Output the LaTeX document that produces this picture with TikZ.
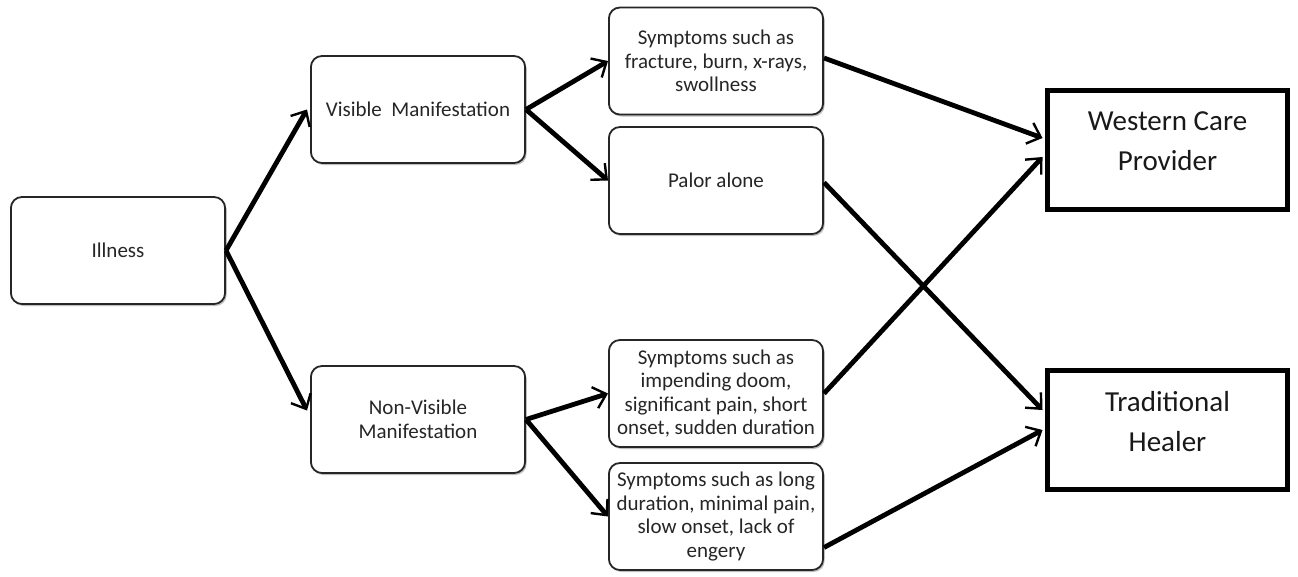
\documentclass[tikz,border=0pt]{standalone}
\usepackage{fontspec}
\setmainfont{Carlito}
\usetikzlibrary{arrows.meta,shadows,calc}
\begin{document}
\begin{tikzpicture}[x=1pt,y=-1pt,
  rbox/.style={draw=black!85, line width=1.8pt, rounded corners=11pt, fill=white,
    minimum width=214.2pt, minimum height=107pt, align=center, inner sep=2pt,
    font=\fontsize{21}{23.5}\selectfont, text=black!85,
    drop shadow={shadow xshift=1.5pt, shadow yshift=-2pt, opacity=0.25, fill=black}},
  obox/.style={draw=black, line width=5pt, fill=white,
    minimum width=240pt, minimum height=119pt, align=center,
    font=\fontsize{29}{40}\selectfont, text=black!90},
  conn/.style={line width=4.8pt, -{Straight Barb[length=12pt,width=22pt,line width=2.4pt]}}]
\useasboundingbox (0,0) rectangle (1298,576);
\node[rbox] (ill) at (118,250.5) {Illness};
\node[rbox] (vis) at (418,109.5) {Visible\ \ Manifestation};
\node[rbox] (nv) at (418,419.5) {Non-Visible\\Manifestation};
\node[rbox] (fr) at (716,61) {Symptoms such as\\fracture, burn, x-rays,\\swollness};
\node[rbox] (pa) at (716,180.5) {Palor alone};
\node[rbox] (im) at (716,393.5) {Symptoms such as\\impending doom,\\significant pain, short\\onset, sudden duration};
\node[rbox] (lo) at (716,516.5) {Symptoms such as long\\duration, minimal pain,\\slow onset, lack of\\engery};
\node[obox] (wc) at (1167.5,150) {Western Care\\Provider\\[-22pt]\mbox{}};
\node[obox] (th) at (1167.5,430) {Traditional\\Healer\\[-22pt]\mbox{}};
\draw[conn] (ill.east) -- ([xshift=-3pt]vis.west);
\draw[conn] (ill.east) -- ([xshift=-3pt,yshift=9pt]nv.west);
\draw[conn] (vis.east) -- (fr.west);
\draw[conn] (vis.east) -- (pa.west);
\draw[conn] (nv.east) -- (im.west);
\draw[conn] (nv.east) -- (lo.west);
\draw[conn] ([yshift=3pt]fr.east) -- ([xshift=-2.5pt,yshift=12pt]wc.west);
\draw[conn] ([yshift=-2pt]pa.east) -- ([xshift=-2.5pt,yshift=20pt]th.west);
\draw[conn] (im.east) -- ([xshift=-2.5pt,yshift=-7pt]wc.west);
\draw[conn] ([yshift=-31pt]lo.east) -- ([xshift=-2.5pt]th.west);
\end{tikzpicture}
\end{document}
